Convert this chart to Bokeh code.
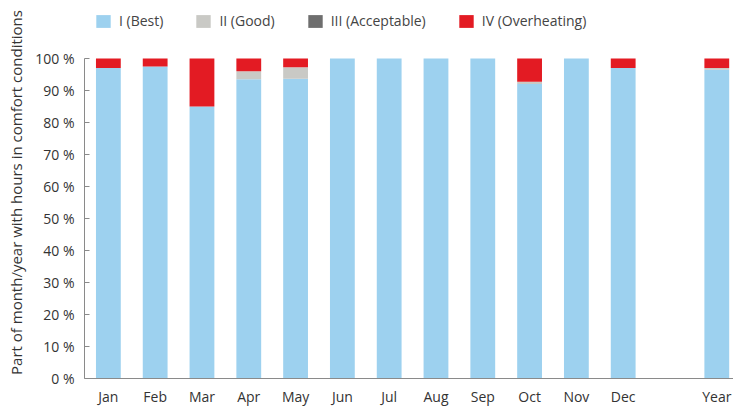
from bokeh.plotting import figure
from bokeh.models import Legend, LegendItem, FixedTicker, Range1d, ColumnDataSource
from bokeh.embed import file_html
from bokeh.resources import INLINE

months = ["Jan", "Feb", "Mar", "Apr", "May", "Jun", "Jul", "Aug", "Sep", "Oct", "Nov", "Dec", "Year"]
best = [97.0, 97.5, 85.0, 93.5, 93.7, 100.0, 100.0, 100.0, 100.0, 92.0, 100.0, 97.0, 96.5]
good = [0.0, 0.0, 0.0, 2.5, 3.6, 0.0, 0.0, 0.0, 0.0, 0.7, 0.0, 0.0, 0.5]
acceptable = [0.0, 0.0, 0.0, 0.0, 0.0, 0.0, 0.0, 0.0, 0.0, 0.0, 0.0, 0.0, 0.0]
overheating = [3.0, 2.5, 15.0, 4.0, 2.7, 0.0, 0.0, 0.0, 0.0, 7.3, 0.0, 3.0, 3.0]
series_names = ["I (Best)", "II (Good)", "III (Acceptable)", "IV (Overheating)"]
colors = ["#9dd1ef", "#c9c9c5", "#6e6e6e", "#e31b23"]
y_ticks = [0, 10, 20, 30, 40, 50, 60, 70, 80, 90, 100]

# one empty slot between Dec and Year
xs = list(range(12)) + [13]

FONT = "Open Sans"

source = ColumnDataSource(dict(x=xs, best=best, good=good, acceptable=acceptable,
                               overheating=overheating))

p = figure(frame_width=649, frame_height=372, output_backend="svg", toolbar_location=None,
           x_range=Range1d(-0.51, 13.357), y_range=Range1d(0, 116.25),
           min_border_left=84, min_border_top=6, min_border_right=0, min_border_bottom=0)

renderers = p.vbar_stack(["best", "good", "acceptable", "overheating"], x="x", width=0.53,
                         color=colors, line_color=None, source=source)

p.xgrid.grid_line_color = None
p.ygrid.grid_line_color = None
p.outline_line_color = None
p.background_fill_color = "white"
p.border_fill_color = "white"

# x axis
p.xaxis.ticker = FixedTicker(ticks=xs)
p.xaxis.major_label_overrides = {x: m for x, m in zip(xs, months)}
p.xaxis.major_tick_line_color = None
p.xaxis.major_tick_out = 0
p.xaxis.major_tick_in = 0
p.xaxis.minor_tick_line_color = None
p.xaxis.axis_line_color = "#8a8a8a"
p.xaxis.major_label_text_font = FONT
p.xaxis.major_label_text_font_size = "14px"
p.xaxis.major_label_text_color = "#333333"
p.xaxis.major_label_standoff = 8

# y axis
p.yaxis.ticker = FixedTicker(ticks=y_ticks)
p.yaxis.bounds = (0, 100)
p.yaxis.major_label_overrides = {t: f"{t} %" for t in y_ticks}
p.yaxis.major_tick_in = 5
p.yaxis.major_tick_out = 0
p.yaxis.minor_tick_line_color = None
p.yaxis.axis_line_color = "#8a8a8a"
p.yaxis.major_tick_line_color = "#8a8a8a"
p.yaxis.major_label_text_font = FONT
p.yaxis.major_label_text_font_size = "14px"
p.yaxis.major_label_text_color = "#333333"
p.yaxis.major_label_standoff = 10
p.yaxis.axis_label = "Part of month/year with hours in comfort conditions"
p.yaxis.axis_label_text_font = FONT
p.yaxis.axis_label_text_font_style = "normal"
p.yaxis.axis_label_text_font_size = "15px"
p.yaxis.axis_label_text_color = "#333333"
p.yaxis.axis_label_standoff = 6

legend = Legend(items=[LegendItem(label=n, renderers=[r]) for n, r in zip(series_names, renderers)],
                orientation="horizontal", location=(10, 348))
legend.border_line_color = None
legend.background_fill_alpha = 0
legend.padding = 2
legend.margin = 0
legend.spacing = 31
legend.label_standoff = 7
legend.glyph_width = 18
legend.glyph_height = 16
legend.label_height = 16
legend.label_text_font = FONT
legend.label_text_font_size = "14px"
legend.label_text_color = "#444444"
p.add_layout(legend)

open("out.html", "w").write(file_html(p, INLINE))
